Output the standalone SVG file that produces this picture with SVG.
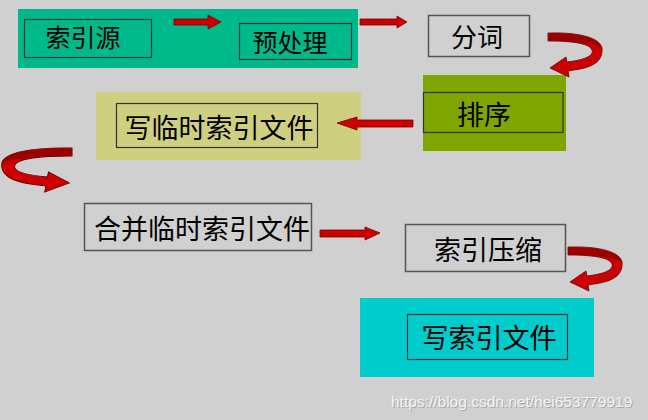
<svg xmlns="http://www.w3.org/2000/svg" width="648" height="420" viewBox="0 0 648 420">
<style>
.lbl{font-family:"Noto Sans CJK SC","Noto Sans",sans-serif;fill:#000;text-anchor:middle}
.inner{fill:none;stroke:#333;stroke-width:1.2}
.plain{fill:none;stroke:#555;stroke-width:1.5}
.arr{fill:#cc0000;stroke:#700;stroke-width:0.8}
.rib{fill:#cc0000;stroke:#600;stroke-width:0.8}
.ribd{fill:#990000}
</style>
<defs>
<g id="curl">
<path class="rib" d="M548,33 C580,32 600,38 602,48 C603,60 595,66 580,69 L568,71 L569,77 L550,68 L566,57 L567,62 C584,60 594,56 592,50 C590,44 575,41 548,41 Z"/>
<path class="ribd" d="M548.5,33.5 C580,32.5 599,38 601.5,48 C598,45 580,41 548.5,40.5 Z"/>
</g>
</defs>
<rect width="648" height="420" fill="#d0d0d0"/>

<g id="n-source">
<rect x="18" y="9" width="340" height="59" fill="#00b98b"/>
<rect class="inner" x="24.5" y="19.5" width="127" height="38"/>
<text class="lbl" x="83" y="47" font-size="25">索引源</text>
</g>
<g id="n-preprocess">
<rect class="inner" x="239.5" y="23.5" width="112" height="36"/>
<text class="lbl" x="290" y="52" font-size="25">预处理</text>
</g>
<g id="n-tokenize">
<rect class="plain" x="428.5" y="15.5" width="101" height="41"/>
<text class="lbl" x="477" y="47" font-size="26">分词</text>
</g>
<g id="n-sort">
<rect x="423" y="75" width="143" height="76" fill="#7fa500"/>
<rect class="inner" x="423.5" y="92.5" width="139.5" height="40"/>
<text class="lbl" x="484" y="125" font-size="27">排序</text>
</g>
<g id="n-writetemp">
<rect x="96" y="92" width="265" height="68" fill="#cfcf80"/>
<rect class="inner" x="116.5" y="103.5" width="201" height="44"/>
<text class="lbl" x="219" y="138" font-size="27">写临时索引文件</text>
</g>
<g id="n-merge">
<rect class="plain" x="84.5" y="203.5" width="227" height="47"/>
<text class="lbl" x="202" y="239" font-size="27">合并临时索引文件</text>
</g>
<g id="n-compress">
<rect class="plain" x="405.5" y="224.5" width="160" height="47"/>
<text class="lbl" x="488" y="260" font-size="27">索引压缩</text>
</g>
<g id="n-writeindex">
<rect x="360" y="298" width="234" height="79" fill="#00cccc"/>
<rect class="inner" x="407.5" y="314.5" width="160" height="45"/>
<text class="lbl" x="489" y="348" font-size="27">写索引文件</text>
</g>

<g id="connectors">
<polygon class="arr" points="174,19 208,19 208,15 221,22 208,29 208,25 174,25"/>
<polygon class="arr" points="360,19 397,19 397,16 407,22 397,28 397,25 360,25"/>
<polygon class="arr" points="413,120 357,120 357,117 337,123 357,130 357,127 413,127"/>
<polygon class="arr" points="320,230 365,230 365,227 380,233 365,240 365,237 320,237"/>
<use href="#curl"/>
<use href="#curl" transform="matrix(-1.3 0 0 1 784.4 115)"/>
<use href="#curl" transform="translate(20 214)"/>
</g>

<text x="392" y="408" font-family="Liberation Sans, Arial, sans-serif" font-size="15.5" fill="#a8a8a8">https://blog.csdn.net/hei653779919</text>
<text x="391" y="407" font-family="Liberation Sans, Arial, sans-serif" font-size="15.5" fill="#f4f4f4">https://blog.csdn.net/hei653779919</text>
</svg>
